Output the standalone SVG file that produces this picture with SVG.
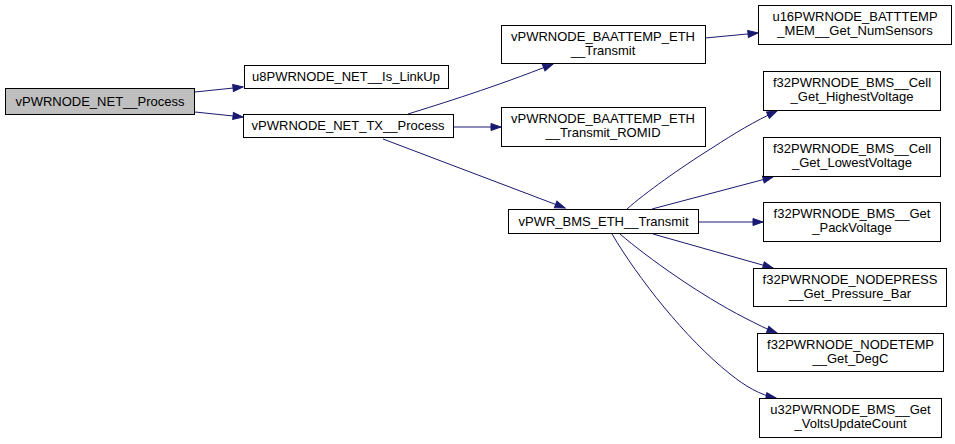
<svg xmlns="http://www.w3.org/2000/svg" width="955" height="444" viewBox="0 0 955 444">
<style>
  .node rect { fill: #ffffff; stroke: #000000; stroke-width: 1; }
  .node.root rect { fill: #bfbfbf; }
  .node text { font-family: "Liberation Sans", Arial, sans-serif; font-size: 13px; fill: #000000; text-anchor: middle; }
  .edges path { fill: none; stroke: #191970; stroke-width: 1; marker-end: url(#arr); }
</style>
<defs>
  <marker id="arr" markerWidth="12" markerHeight="10" refX="10" refY="3.5" orient="auto" markerUnits="userSpaceOnUse" overflow="visible">
    <path d="M0,0 L10,3.5 L0,7 Z" fill="#191970" stroke="#191970" stroke-width="1"/>
  </marker>
</defs>
<rect width="955" height="444" fill="#ffffff"/>
<g class="edges">
  <path d="M195,92 L243,87"/>
  <path d="M195,112 L243,117"/>
  <path d="M408,114 C440,104 495,87 553,64"/>
  <path d="M453,127 L501,127"/>
  <path d="M383,139 L565,208"/>
  <path d="M705,38 L758,33"/>
  <path d="M627,209 C645,193 680,168 712,148 C735,133 755,121 777,111"/>
  <path d="M652,209 L773,177"/>
  <path d="M699,222 L763,222"/>
  <path d="M653,234 L773,268"/>
  <path d="M620,234 C648,258 700,295 745,318 C757,324 766,329 777,333"/>
  <path d="M612,234 C638,278 685,338 730,374 C745,386 760,395 776,398"/>
</g>
<g id="n1" class="node root"><rect x="5.5" y="88.5" width="189" height="26"/><text x="100" y="106">vPWRNODE_NET__Process</text></g>
<g id="n2" class="node"><rect x="244.5" y="65.5" width="204" height="23"/><text x="346" y="81">u8PWRNODE_NET__Is_LinkUp</text></g>
<g id="n3" class="node"><rect x="243.5" y="114.5" width="210" height="23"/><text x="348" y="130">vPWRNODE_NET_TX__Process</text></g>
<g id="n4" class="node"><rect x="501.5" y="25.5" width="204" height="38"/><text x="603" y="41">vPWRNODE_BAATTEMP_ETH</text><text x="603" y="55">__Transmit</text></g>
<g id="n5" class="node"><rect x="501.5" y="107.5" width="204" height="39"/><text x="603" y="123">vPWRNODE_BAATTEMP_ETH</text><text x="603" y="137">__Transmit_ROMID</text></g>
<g id="n6" class="node"><rect x="758.5" y="5.5" width="193" height="39"/><text x="855" y="21">u16PWRNODE_BATTTEMP</text><text x="855" y="35">_MEM__Get_NumSensors</text></g>
<g id="n7" class="node"><rect x="508.5" y="209.5" width="190" height="24"/><text x="603.5" y="226">vPWR_BMS_ETH__Transmit</text></g>
<g id="n8" class="node"><rect x="763.5" y="71.5" width="177" height="39"/><text x="852" y="87">f32PWRNODE_BMS__Cell</text><text x="852" y="101">_Get_HighestVoltage</text></g>
<g id="n9" class="node"><rect x="763.5" y="137.5" width="177" height="39"/><text x="852" y="153">f32PWRNODE_BMS__Cell</text><text x="852" y="167">_Get_LowestVoltage</text></g>
<g id="n10" class="node"><rect x="763.5" y="202.5" width="177" height="39"/><text x="852" y="218">f32PWRNODE_BMS__Get</text><text x="852" y="232">_PackVoltage</text></g>
<g id="n11" class="node"><rect x="753.5" y="268.5" width="193" height="38"/><text x="850" y="284">f32PWRNODE_NODEPRESS</text><text x="850" y="298">__Get_Pressure_Bar</text></g>
<g id="n12" class="node"><rect x="757.5" y="333.5" width="186" height="38"/><text x="850.5" y="349">f32PWRNODE_NODETEMP</text><text x="850.5" y="363">__Get_DegC</text></g>
<g id="n13" class="node"><rect x="759.5" y="398.5" width="182" height="39"/><text x="850.5" y="414">u32PWRNODE_BMS__Get</text><text x="850.5" y="428">_VoltsUpdateCount</text></g>
</svg>
